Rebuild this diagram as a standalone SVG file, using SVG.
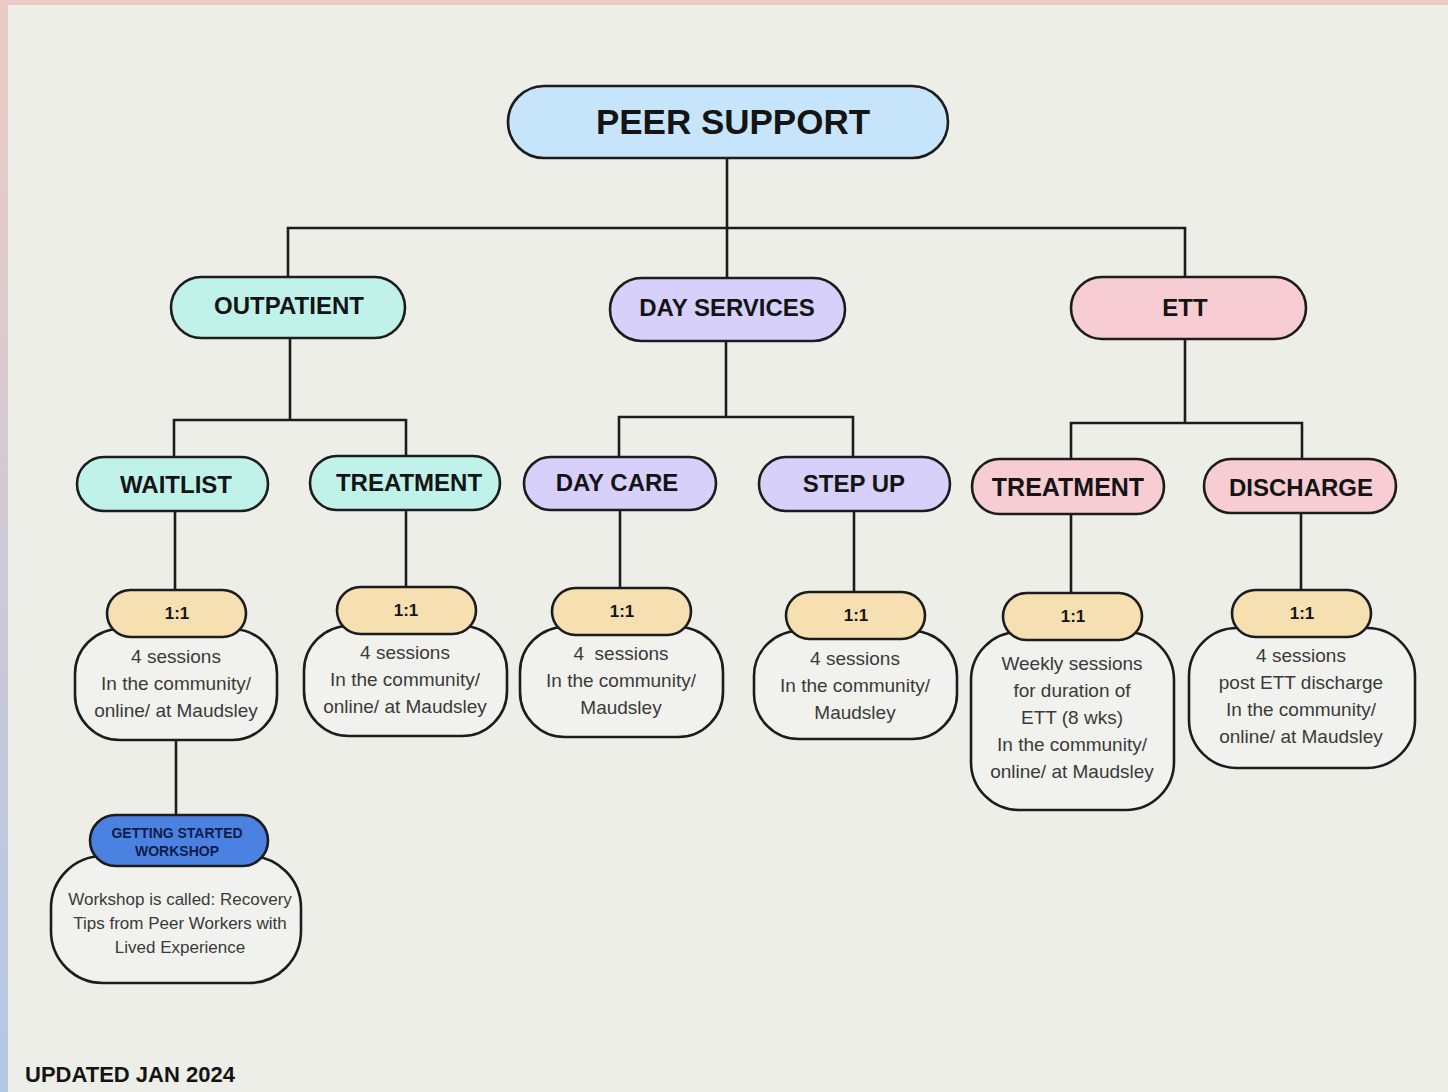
<svg xmlns="http://www.w3.org/2000/svg" width="1448" height="1092" viewBox="0 0 1448 1092">
<defs>
<linearGradient id="side" x1="0" y1="0" x2="0" y2="1">
<stop offset="0" stop-color="#ebcbc3"/>
<stop offset="1" stop-color="#b3c8e5"/>
</linearGradient>
<style>
.node{stroke:#1c1c1c;stroke-width:2.6}
.blue{fill:#c6e5fb}
.mint{fill:#c0f2ea}
.lav{fill:#d6d0fa}
.pink{fill:#f7cdd3}
.tan{fill:#f6dfb0}
.det{fill:#f1f1ed}
.wk{fill:#4b82e2}
.h{font-family:"Liberation Sans",Arial,sans-serif;font-weight:bold;fill:#141414;text-anchor:middle}
.d{font-family:"Liberation Sans",Arial,sans-serif;font-size:19px;fill:#3a3a3a;text-anchor:middle}
.c{fill:none;stroke:#1c1c1c;stroke-width:2.6}
</style>
</defs>
<rect width="1448" height="1092" fill="#eeeee9"/>
<rect x="0" y="0" width="1448" height="5" fill="#ebcbc3"/>
<rect x="0" y="0" width="8" height="1092" fill="url(#side)"/>

<g id="connectors">
<path class="c" d="M727 158V228M288 277V228H1185V278M727 228V278"/>
<path class="c" d="M290 338V420M174 457V420H406V456"/>
<path class="c" d="M726 341V417M619 457V417H853V457"/>
<path class="c" d="M1185 339V423M1071 459V423H1302V459"/>
<path class="c" d="M175 511V590M406 510V587M620 510V588M854 511V592M1071 514V593M1301 513V590"/>
<path class="c" d="M176 740V815"/>
</g>

<g id="peer-support">
<rect class="node blue" x="508" y="86" width="440" height="72" rx="36"/>
<text class="h" x="733" y="134" font-size="35">PEER SUPPORT</text>
</g>

<g id="outpatient">
<rect class="node mint" x="171" y="277" width="234" height="61" rx="30.5"/>
<text class="h" x="289" y="314" font-size="24">OUTPATIENT</text>
</g>
<g id="day-services">
<rect class="node lav" x="610" y="278" width="235" height="63" rx="31.5"/>
<text class="h" x="727" y="316" font-size="24">DAY SERVICES</text>
</g>
<g id="ett">
<rect class="node pink" x="1071" y="277" width="235" height="62" rx="31"/>
<text class="h" x="1185" y="316" font-size="24">ETT</text>
</g>

<g id="waitlist">
<rect class="node mint" x="77" y="457" width="191" height="54" rx="27"/>
<text class="h" x="176" y="493" font-size="24">WAITLIST</text>
</g>
<g id="op-treatment">
<rect class="node mint" x="310" y="456" width="190" height="54" rx="27"/>
<text class="h" x="409" y="491" font-size="24">TREATMENT</text>
</g>
<g id="day-care">
<rect class="node lav" x="524" y="457" width="192" height="53" rx="26.5"/>
<text class="h" x="617" y="491" font-size="24">DAY CARE</text>
</g>
<g id="step-up">
<rect class="node lav" x="759" y="457" width="191" height="54" rx="27"/>
<text class="h" x="854" y="492" font-size="24">STEP UP</text>
</g>
<g id="ett-treatment">
<rect class="node pink" x="972" y="459" width="192" height="55" rx="27.5"/>
<text class="h" x="1068" y="496" font-size="25">TREATMENT</text>
</g>
<g id="discharge">
<rect class="node pink" x="1204" y="459" width="192" height="54" rx="27"/>
<text class="h" x="1301" y="496" font-size="24">DISCHARGE</text>
</g>

<g id="waitlist-11">
<rect class="node det" x="75" y="629" width="202" height="111" rx="45"/>
<rect class="node tan" x="107" y="590" width="139" height="47" rx="23.5"/>
<text class="h" x="177" y="619" font-size="17">1:1</text>
<text class="d" x="176" y="663">4 sessions</text>
<text class="d" x="176" y="690">In the community/</text>
<text class="d" x="176" y="717">online/ at Maudsley</text>
</g>

<g id="op-treatment-11">
<rect class="node det" x="304" y="626" width="203" height="110" rx="45"/>
<rect class="node tan" x="337" y="587" width="139" height="47" rx="23.5"/>
<text class="h" x="406" y="616" font-size="17">1:1</text>
<text class="d" x="405" y="659">4 sessions</text>
<text class="d" x="405" y="686">In the community/</text>
<text class="d" x="405" y="713">online/ at Maudsley</text>
</g>

<g id="day-care-11">
<rect class="node det" x="520" y="627" width="203" height="110" rx="45"/>
<rect class="node tan" x="552" y="588" width="139" height="47" rx="23.5"/>
<text class="h" x="622" y="617" font-size="17">1:1</text>
<text class="d" x="621" y="660" xml:space="preserve">4  sessions</text>
<text class="d" x="621" y="687">In the community/</text>
<text class="d" x="621" y="714">Maudsley</text>
</g>

<g id="step-up-11">
<rect class="node det" x="754" y="631" width="203" height="108" rx="45"/>
<rect class="node tan" x="786" y="592" width="139" height="47" rx="23.5"/>
<text class="h" x="856" y="621" font-size="17">1:1</text>
<text class="d" x="855" y="665">4 sessions</text>
<text class="d" x="855" y="692">In the community/</text>
<text class="d" x="855" y="719">Maudsley</text>
</g>

<g id="ett-treatment-11">
<rect class="node det" x="971" y="632" width="203" height="178" rx="48"/>
<rect class="node tan" x="1003" y="593" width="139" height="47" rx="23.5"/>
<text class="h" x="1073" y="622" font-size="17">1:1</text>
<text class="d" x="1072" y="670">Weekly sessions</text>
<text class="d" x="1072" y="697">for duration of</text>
<text class="d" x="1072" y="724">ETT (8 wks)</text>
<text class="d" x="1072" y="751">In the community/</text>
<text class="d" x="1072" y="778">online/ at Maudsley</text>
</g>

<g id="discharge-11">
<rect class="node det" x="1189" y="628" width="226" height="140" rx="48"/>
<rect class="node tan" x="1232" y="590" width="139" height="47" rx="23.5"/>
<text class="h" x="1302" y="619" font-size="17">1:1</text>
<text class="d" x="1301" y="662">4 sessions</text>
<text class="d" x="1301" y="689">post ETT discharge</text>
<text class="d" x="1301" y="716">In the community/</text>
<text class="d" x="1301" y="743">online/ at Maudsley</text>
</g>

<g id="workshop">
<rect class="node det" x="51" y="856" width="250" height="127" rx="52"/>
<rect class="node wk" x="90" y="815" width="178" height="51" rx="25.5"/>
<text class="h" x="177" y="838" font-size="14" style="fill:#0e1d48">GETTING STARTED</text>
<text class="h" x="177" y="856" font-size="14" style="fill:#0e1d48">WORKSHOP</text>
<text class="d" x="180" y="905" style="font-size:17px">Workshop is called: Recovery</text>
<text class="d" x="180" y="929" style="font-size:17px">Tips from Peer Workers with</text>
<text class="d" x="180" y="953" style="font-size:17px">Lived Experience</text>
</g>

<text x="25" y="1082" font-family="Liberation Sans, Arial, sans-serif" font-weight="bold" font-size="22" fill="#141414">UPDATED JAN 2024</text>
</svg>
